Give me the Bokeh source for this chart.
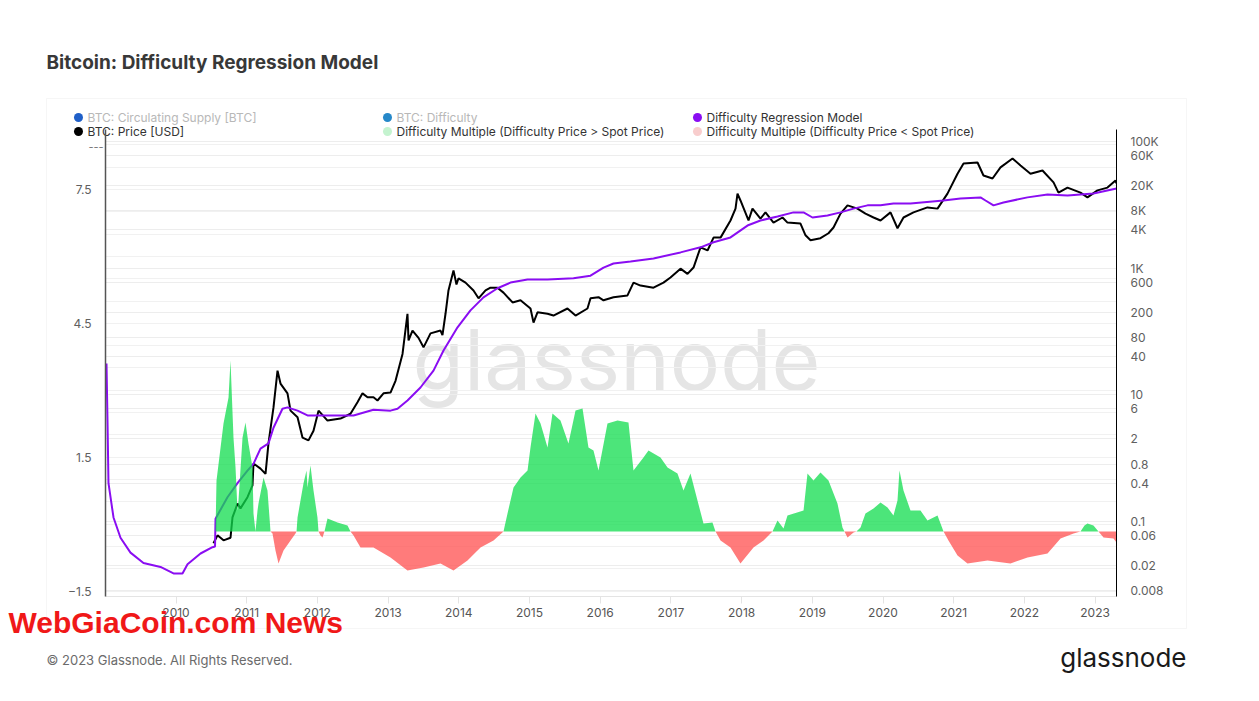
import numpy as np
from bokeh.plotting import figure
from bokeh.models import (Range1d, LinearAxis, LinearScale, FixedTicker, Label,
                          BoxAnnotation, Grid)
from bokeh.embed import file_html
from bokeh.resources import INLINE

# ---------------- data ----------------
year_ticks = list(range(2010, 2024))

price_t = [2010.530, 2010.587, 2010.672, 2010.771, 2010.799, 2010.870, 2010.912, 2011.011, 2011.082, 2011.096,
           2011.195, 2011.266, 2011.308, 2011.379, 2011.436, 2011.478, 2011.577, 2011.620, 2011.719, 2011.789,
           2011.874, 2011.945, 2012.016, 2012.143, 2012.327, 2012.468, 2012.567, 2012.638, 2012.709, 2012.793,
           2012.850, 2012.935, 2013.034, 2013.105, 2013.204, 2013.274, 2013.289, 2013.345, 2013.430, 2013.501,
           2013.600, 2013.741, 2013.769, 2013.812, 2013.854, 2013.925, 2013.967, 2013.996, 2014.095, 2014.208,
           2014.279, 2014.378, 2014.448, 2014.547, 2014.632, 2014.760, 2014.873, 2015.014, 2015.057, 2015.113,
           2015.255, 2015.339, 2015.537, 2015.651, 2015.820, 2015.863, 2015.976, 2016.047, 2016.188, 2016.386,
           2016.471, 2016.570, 2016.754, 2016.895, 2016.994, 2017.136, 2017.235, 2017.320, 2017.419, 2017.518,
           2017.603, 2017.702, 2017.843, 2017.914, 2017.942, 2017.984, 2018.098, 2018.154, 2018.267, 2018.338,
           2018.451, 2018.579, 2018.649, 2018.833, 2018.904, 2018.975, 2019.116, 2019.229, 2019.300, 2019.399,
           2019.498, 2019.639, 2019.752, 2019.866, 2019.965, 2020.106, 2020.205, 2020.290, 2020.431, 2020.629,
           2020.771, 2020.912, 2021.054, 2021.139, 2021.337, 2021.421, 2021.549, 2021.662, 2021.832, 2021.945,
           2022.086, 2022.256, 2022.412, 2022.482, 2022.610, 2022.793, 2022.892, 2023.034, 2023.175, 2023.289,
           2023.303]
price_usd = [0.045, 0.06, 0.05, 0.055, 0.115, 0.19, 0.16, 0.24, 0.37, 0.82,
             0.68, 0.56, 1.7, 6.3, 24, 15, 10.5, 5.6, 4.4, 2.1,
             1.9, 2.7, 5.6, 3.9, 4.2, 5.0, 7.6, 10.5, 9.1, 9.1,
             8.1, 10.5, 10.8, 16.6, 44, 190, 72, 103, 79, 56,
             93, 103, 87, 190, 444, 920, 550, 690, 590, 444,
             333, 444, 490, 490, 410, 287, 310, 230, 138, 200,
             190, 178, 230, 178, 230, 333, 347, 310, 347, 370,
             590, 530, 490, 590, 710, 980, 810, 1020, 2130, 1900,
             3030, 3030, 5650, 8700, 15000, 11700, 5650, 8700, 6060, 7590,
             5230, 6300, 5230, 5050, 3300, 2750, 2970, 3550, 4380, 7250,
             9800, 8700, 7250, 6300, 5650, 7590, 4260, 6300, 7590, 9100,
             8700, 15000, 31000, 45000, 46600, 29000, 26000, 39000, 54000, 41800,
             31000, 34800, 22600, 15600, 18700, 15600, 13100, 16900, 18700, 24200,
             21800]

model_t = [2009.017, 2009.031, 2009.045, 2009.116, 2009.215, 2009.356, 2009.540, 2009.781, 2009.965, 2010.092,
           2010.163, 2010.347, 2010.516, 2010.552, 2010.559, 2010.728, 2010.870, 2011.011, 2011.096, 2011.195,
           2011.308, 2011.379, 2011.506, 2011.577, 2011.719, 2011.860, 2012.228, 2012.511, 2012.793, 2013.034,
           2013.133, 2013.274, 2013.458, 2013.642, 2013.784, 2013.982, 2014.165, 2014.349, 2014.547, 2014.731,
           2014.972, 2015.255, 2015.622, 2015.863, 2016.047, 2016.188, 2016.429, 2016.754, 2017.136, 2017.419,
           2017.603, 2017.843, 2018.083, 2018.267, 2018.508, 2018.734, 2018.876, 2019.003, 2019.215, 2019.399,
           2019.583, 2019.781, 2019.965, 2020.148, 2020.389, 2020.856, 2021.096, 2021.379, 2021.450, 2021.563,
           2021.704, 2022.044, 2022.327, 2022.610, 2022.977, 2023.303]
model_usd = [31, 3.9, 0.40, 0.115, 0.055, 0.032, 0.022, 0.019, 0.015, 0.015,
             0.021, 0.031, 0.039, 0.040, 0.11, 0.24, 0.40, 0.63, 0.81, 1.41,
             1.7, 3.0, 6.0, 6.3, 5.6, 4.7, 4.7, 4.7, 5.8, 5.6,
             6.0, 8.1, 13, 24, 50, 116, 215, 345, 480, 590,
             660, 660, 690, 760, 1020, 1180, 1270, 1420, 1770, 2130,
             2560, 3050, 4700, 5650, 6550, 7590, 7590, 6300, 6800, 7590,
             8700, 9800, 9800, 10500, 10500, 11700, 12600, 13100, 11700, 9800,
             10900, 13100, 14500, 14000, 15100, 18100]

mult_t = [2010.559, 2010.573, 2010.672, 2010.743, 2010.771, 2010.813, 2010.842, 2010.870, 2010.884, 2010.941,
          2010.983, 2011.025, 2011.082, 2011.096, 2011.124, 2011.153, 2011.167, 2011.238, 2011.294, 2011.337,
          2011.365, 2011.407, 2011.450, 2011.521, 2011.620, 2011.690, 2011.705, 2011.719, 2011.803, 2011.846,
          2011.860, 2011.902, 2011.945, 2012.001, 2012.016, 2012.044, 2012.072, 2012.100, 2012.143, 2012.284,
          2012.426, 2012.468, 2012.511, 2012.610, 2012.793, 2013.034, 2013.274, 2013.501, 2013.741, 2013.925,
          2014.123, 2014.307, 2014.491, 2014.632, 2014.689, 2014.774, 2014.873, 2014.972, 2015.014, 2015.085,
          2015.156, 2015.255, 2015.325, 2015.438, 2015.551, 2015.651, 2015.750, 2015.834, 2015.905, 2015.976,
          2016.103, 2016.245, 2016.400, 2016.471, 2016.612, 2016.683, 2016.853, 2016.952, 2017.093, 2017.178,
          2017.277, 2017.376, 2017.461, 2017.588, 2017.631, 2017.702, 2017.843, 2017.984, 2018.168, 2018.310,
          2018.437, 2018.508, 2018.593, 2018.649, 2018.876, 2018.932, 2019.017, 2019.116, 2019.229, 2019.356,
          2019.427, 2019.455, 2019.498, 2019.583, 2019.625, 2019.682, 2019.752, 2019.866, 2019.965, 2020.064,
          2020.148, 2020.205, 2020.233, 2020.290, 2020.389, 2020.530, 2020.629, 2020.771, 2020.856, 2020.926,
          2021.054, 2021.195, 2021.478, 2021.803, 2022.044, 2022.327, 2022.511, 2022.695, 2022.793, 2022.850,
          2022.892, 2022.977, 2023.048, 2023.119, 2023.260, 2023.303]
mult_v = [0.0, 0.51, 1.08, 1.34, 1.71, 0.94, 0.64, 0.21, 0.31, 0.94,
          1.09, 0.88, 0.64, 0.18, 0.0, 0.21, 0.28, 0.54, 0.41, 0.0,
          -0.02, -0.19, -0.32, -0.19, -0.09, -0.02, 0.0, 0.14, 0.48, 0.61,
          0.44, 0.66, 0.41, 0.14, 0.0, -0.04, -0.06, 0.0, 0.13, 0.09,
          0.06, 0.0, -0.04, -0.16, -0.16, -0.26, -0.39, -0.36, -0.32, -0.39,
          -0.29, -0.16, -0.09, 0.0, 0.18, 0.44, 0.54, 0.61, 0.84, 1.18,
          1.08, 0.84, 1.18, 1.11, 0.88, 1.21, 1.23, 0.84, 0.81, 0.61,
          1.08, 1.11, 1.09, 0.61, 0.74, 0.81, 0.74, 0.64, 0.58, 0.41,
          0.58, 0.31, 0.08, 0.09, 0.0, -0.09, -0.16, -0.32, -0.16, -0.09,
          0.0, 0.11, 0.03, 0.16, 0.21, 0.58, 0.51, 0.59, 0.51, 0.28,
          0.04, 0.0, -0.06, -0.01, 0.0, 0.04, 0.18, 0.23, 0.29, 0.24,
          0.16, 0.31, 0.61, 0.41, 0.21, 0.21, 0.11, 0.16, 0.0, -0.09,
          -0.24, -0.32, -0.29, -0.32, -0.26, -0.22, -0.07, -0.02, 0.0, 0.06,
          0.08, 0.06, 0.0, -0.06, -0.07, -0.11]

right_ticks = [100000, 60000, 20000, 8000, 4000, 1000, 600, 200, 80, 40, 10, 6, 2, 0.8, 0.4, 0.1, 0.06, 0.02, 0.008]
right_labels = ["100K", "60K", "20K", "8K", "4K", "1K", "600", "200", "80", "40", "10", "6", "2",
                "0.8", "0.4", "0.1", "0.06", "0.02", "0.008"]
left_ticks = [-1.5, 1.5, 4.5, 7.5]

legend_names = [["BTC: Circulating Supply [BTC]", "BTC: Difficulty", "Difficulty Regression Model"],
                ["BTC: Price [USD]", "Difficulty Multiple (Difficulty Price > Spot Price)",
                 "Difficulty Multiple (Difficulty Price < Spot Price)"]]
legend_dot_colors = [["#1f5fc8", "#2688c9", "#8a0df2"], ["#000000", "#c4f3cf", "#f8cdcd"]]
legend_text_colors = [["#b8b8b8", "#b8b8b8", "#333333"], ["#333333", "#333333", "#333333"]]

# ---------------- layout (page pixels) ----------------
W, H = 1255, 697
FX0, FX1, FY0, FY1 = 105, 1116, 129, 596
FONT = "Inter"


def px_year(px):
    return 2010 + (px - 175.5) / 70.7


def py_left(py):
    return -1.5 + (590.5 - py) / 44.61


def py_price(py):
    return 10 ** (5 - (py - 141) / 63.3)


def py_mult(py):
    return (531 - py) / 100.0


# ---------------- background: page decorations (frame == whole page) ----------------
bg = figure(width=W, height=H, output_backend="svg", toolbar_location=None,
            x_range=Range1d(0, W), y_range=Range1d(H, 0), min_border=0,
            x_axis_type=None, y_axis_type=None)
bg.grid.visible = False
bg.outline_line_color = None
bg.background_fill_color = "white"
bg.border_fill_color = "white"


def txt(s, x, y, size, color, align="left", font=FONT, style="normal"):
    bg.add_layout(Label(x=x, y=y, text=s, text_font=font, text_font_size=size, text_color=color,
                        text_font_style=style, text_align=align, text_baseline="middle"))


# card
bg.add_layout(BoxAnnotation(left=46, right=1186, top=98, bottom=628, fill_alpha=0,
                            line_color="#e2e2e2", line_width=1))
# watermark
txt("glassnode", 616, 359, "84px", "#e5e5e5", align="center")

# legend
row_y = [117, 131]
col_x = [78, 387, 697]
dx, dy, dc = [], [], []
for r in range(2):
    for c in range(3):
        dx.append(col_x[c])
        dy.append(row_y[r])
        dc.append(legend_dot_colors[r][c])
        txt(legend_names[r][c], col_x[c] + 9, row_y[r], "12px", legend_text_colors[r][c])
bg.scatter(dx, dy, size=9, fill_color=dc, line_color=None)
txt("---", 88, 146, "11px", "#777777")

# title / footer
txt("Bitcoin: Difficulty Regression Model", 46, 62, "19px", "#383838", style="bold")
txt("\u00a9 2023 Glassnode. All Rights Reserved.", 46, 659, "13px", "#6b6b6b")
txt("glassnode", 1186, 657, "26px", "#1a1a1a", align="right")

# ---------------- foreground: the chart (transparent, laid over the page) ----------------
p = figure(width=W, height=H, output_backend="svg", toolbar_location=None,
           x_range=Range1d(px_year(FX0), px_year(FX1)),
           y_range=Range1d(py_price(FY1), py_price(FY0)),
           y_axis_type="log", y_axis_location="right",
           min_border_left=FX0, min_border_right=W - FX1,
           min_border_top=FY0, min_border_bottom=H - FY1,
           styles={"position": "absolute", "left": "0px", "top": "0px"})
p.outline_line_color = None
p.background_fill_color = None
p.border_fill_color = None
p.extra_y_ranges = {"left": Range1d(py_left(FY1), py_left(FY0)),
                    "mult": Range1d(py_mult(FY1), py_mult(FY0))}
p.extra_y_scales = {"left": LinearScale(), "mult": LinearScale()}

ra = p.yaxis[0]
ra.ticker = FixedTicker(ticks=right_ticks, minor_ticks=[])
ra.major_label_overrides = {t: l for t, l in zip(right_ticks, right_labels)}
ra.axis_line_color = "#000000"
ra.axis_line_width = 1
ra.major_tick_line_color = None
ra.minor_tick_line_color = None
ra.major_tick_out = 0
ra.major_label_standoff = 14
ra.major_label_text_font = FONT
ra.major_label_text_font_size = "12px"
ra.major_label_text_color = "#606060"

la = LinearAxis(y_range_name="left", ticker=FixedTicker(ticks=left_ticks, minor_ticks=[]))
la.axis_line_color = "#555555"
la.axis_line_width = 1.5
la.major_tick_line_color = None
la.minor_tick_line_color = None
la.major_tick_out = 0
la.major_label_standoff = 14
la.major_label_text_font = FONT
la.major_label_text_font_size = "12px"
la.major_label_text_color = "#606060"
p.add_layout(la, "left")

xa = p.xaxis[0]
xa.ticker = FixedTicker(ticks=year_ticks, minor_ticks=[])
xa.major_label_overrides = {y: str(y) for y in year_ticks}
xa.axis_line_color = "#e4e4e4"
xa.major_tick_line_color = "#e4e4e4"
xa.major_tick_out = 7
xa.major_tick_in = 0
xa.minor_tick_line_color = None
xa.major_label_standoff = 4
xa.major_label_text_font = FONT
xa.major_label_text_font_size = "12px"
xa.major_label_text_color = "#555555"

p.xgrid.visible = False
p.ygrid.ticker = FixedTicker(ticks=right_ticks)
p.ygrid.grid_line_color = "#ededed"
lg = Grid(dimension=1, ticker=FixedTicker(ticks=list(np.arange(-1.5, 8.6, 0.5))),
          y_range_name="left", grid_line_color="#f1f1f1")
p.add_layout(lg)

p.line(price_t, price_usd, line_color="#000000", line_width=2)
p.line(model_t, model_usd, line_color="#8a0df2", line_width=2)
mv = np.array(mult_v)
zeros = np.zeros_like(mv)
p.varea(x=mult_t, y1=zeros, y2=np.maximum(mv, 0), fill_color="#10dc4e", fill_alpha=0.75,
        y_range_name="mult")
p.varea(x=mult_t, y1=np.minimum(mv, 0), y2=zeros, fill_color="#ff4f4f", fill_alpha=0.75,
        y_range_name="mult")

# news overlay text (drawn above the chart's axis labels)
p.add_layout(Label(x=px_year(8), y=py_left(622), y_range_name="left", text="WebGiaCoin.com News",
                   text_font="Liberation Sans", text_font_size="30px", text_font_style="bold",
                   text_color="#f01818", text_baseline="middle"), "above")

open("out.html", "w").write(file_html([bg, p], INLINE))
